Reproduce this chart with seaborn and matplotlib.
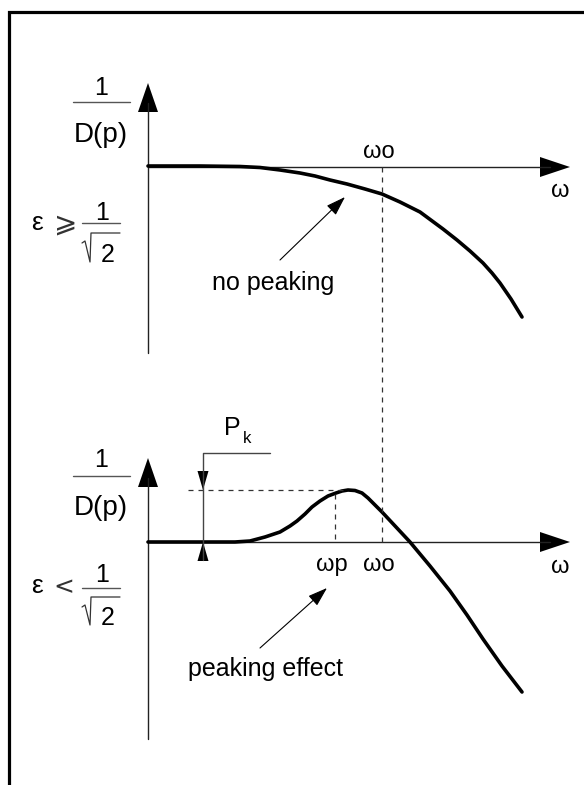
import matplotlib
matplotlib.use("Agg")
import matplotlib.pyplot as plt
from matplotlib.patches import Polygon
import seaborn as sns
import pandas as pd

sns.set_theme(style="white")
plt.rcParams['font.family'] = ['Liberation Sans', 'DejaVu Sans']
plt.rcParams['mathtext.fontset'] = 'dejavusans'
plt.rcParams['text.color'] = 'black'

# ---------------- data (diagram coordinates, pixels, y downwards) -------------
# top panel: epsilon >= 1/sqrt(2), no peaking
top_curve_x = [148, 200, 240, 260, 280, 300, 315, 330, 347, 365, 382, 400, 420,
               443, 457, 470, 483, 492, 500, 511, 522]
top_curve_y = [166, 166, 166.5, 167.5, 170, 173, 176, 180, 184, 189, 194, 202, 212,
               229, 240, 251, 263, 273, 283, 299, 317]
# bottom panel: epsilon < 1/sqrt(2), peaking effect
bot_curve_x = [148, 235, 250, 265, 280, 290, 297, 305, 312, 320, 328, 336, 342, 348,
               355, 362, 368, 375, 382, 396, 410, 430, 450, 467, 483, 502, 522]
bot_curve_y = [542, 542, 541, 537, 532, 526, 521, 514, 507, 501, 496, 493, 491, 490,
               490.5, 493, 498, 505, 512, 527, 542, 566, 591, 615, 639, 666, 692]

panel_names = ["no peaking", "peaking effect"]
origin_x = 148
origin_y = [167, 542]
yaxis_top = [83, 458]
yaxis_bottom = [353, 739]
xaxis_end = 570
omega_o = 382
omega_p = 335
peak_level = 490
ratio_symbols = [r"$\geqslant$", "<"]

df = pd.concat([
    pd.DataFrame({"w": top_curve_x, "mag": top_curve_y, "panel": panel_names[0]}),
    pd.DataFrame({"w": bot_curve_x, "mag": bot_curve_y, "panel": panel_names[1]}),
])

# ---------------- figure ---------------------------------------------------
fig = plt.figure(figsize=(5.84, 7.85), dpi=100)
ax = fig.add_axes([0, 0, 1, 1])

# outer frame (left and top)
ax.plot([9, 9, 590], [800, 12, 12], color="black", lw=2.3, solid_joinstyle="miter")

axis_c = "#222222"
for i in range(2):
    oy = origin_y[i]
    # vertical axis + arrow head
    ax.plot([origin_x, origin_x], [yaxis_bottom[i], yaxis_top[i] + 20], color=axis_c, lw=1.0)
    ax.add_patch(Polygon([[origin_x, yaxis_top[i]], [origin_x - 10, yaxis_top[i] + 29],
                          [origin_x + 10, yaxis_top[i] + 29]], closed=True,
                         color="black", lw=0))
    # horizontal axis + arrow head
    ax.plot([origin_x, xaxis_end - 20], [oy, oy], color=axis_c, lw=1.0)
    ax.add_patch(Polygon([[xaxis_end, oy], [xaxis_end - 30, oy - 10],
                          [xaxis_end - 30, oy + 10]], closed=True, color="black", lw=0))
    # omega label at axis end
    ax.text(560, oy + 30 if i == 0 else oy + 31, "ω", ha="center", va="baseline", fontsize=17)

# curves
sns.lineplot(data=df, x="w", y="mag", units="panel", estimator=None, sort=False,
             color="black", lw=2.6, ax=ax, legend=False)
ax.set_xlim(0, 584)
ax.set_ylim(785, 0)
ax.axis("off")

dash = (0, (4, 4))
# omega_o dashed vertical (spans both panels)
ax.plot([omega_o, omega_o], [origin_y[0], origin_y[1]], color="#333333", lw=0.9, ls=dash)
# omega_p dashed vertical
ax.plot([omega_p, omega_p], [494, origin_y[1]], color="#333333", lw=0.9, ls=dash)
# peak level dashed horizontal
ax.plot([188, 345], [peak_level, peak_level], color="#333333", lw=0.9, ls=dash)

# P_k dimension
ax.plot([270, 203, 203], [453, 453, 560], color="#444444", lw=1.0)
ax.add_patch(Polygon([[203, peak_level], [197.5, peak_level - 19], [208.5, peak_level - 19]],
                     closed=True, color="black", lw=0))
ax.add_patch(Polygon([[203, origin_y[1]], [197.5, origin_y[1] + 19], [208.5, origin_y[1] + 19]],
                     closed=True, color="black", lw=0))
ax.text(232, 435, "P", ha="center", va="baseline", fontsize=18)
ax.text(247, 443, "k", ha="center", va="baseline", fontsize=12)

# tick labels on omega axis
ax.text(379, 158, "ωo", ha="center", va="baseline", fontsize=17)
ax.text(332, 571, "ωp", ha="center", va="baseline", fontsize=17)
ax.text(379, 571, "ωo", ha="center", va="baseline", fontsize=17)

# 1 / D(p) labels
frac_c = "#555555"
for i, (one_b, line_y, d_b) in enumerate([(95, 102, 142), (467, 476, 515)]):
    ax.text(101, one_b, "1", ha="center", va="baseline", fontsize=18)
    ax.plot([73, 130], [line_y, line_y], color=frac_c, lw=1.0)
    ax.text(100.5, d_b, "D(p)", ha="center", va="baseline", fontsize=20)

# epsilon conditions
sym_sizes = [20, 18]
sym_x = [62, 64]
for i, (eps_b, one_b, line_y, bar_y, two_b) in enumerate(
        [(230, 220, 223, 233, 262), (593, 582, 588, 597, 625)]):
    ax.text(37, eps_b, "ε", ha="center", va="baseline", fontsize=19)
    ax.text(sym_x[i], (eps_b - 6), ratio_symbols[i], ha="center", va="center",
            fontsize=sym_sizes[i], family=["DejaVu Sans", "STIXGeneral"], color="#333333")
    ax.text(102, one_b, "1", ha="center", va="baseline", fontsize=18)
    ax.plot([82, 120], [line_y, line_y], color=frac_c, lw=1.0)
    ax.plot([82, 85, 90, 91, 120], [bar_y + 10, bar_y + 8, two_b, bar_y, bar_y],
            color="#333333", lw=0.9)
    ax.text(107.5, two_b, "2", ha="center", va="baseline", fontsize=18)

# annotations
ax.annotate("", xy=(345, 197), xytext=(280, 260),
            arrowprops=dict(arrowstyle="-|>,head_length=1.2,head_width=0.4",
                            mutation_scale=10, lw=0.8, color="black", shrinkA=0, shrinkB=0))
ax.text(273, 290, panel_names[0], ha="center", va="baseline", fontsize=18)
ax.annotate("", xy=(327, 588), xytext=(260, 648),
            arrowprops=dict(arrowstyle="-|>,head_length=1.2,head_width=0.4",
                            mutation_scale=10, lw=0.8, color="black", shrinkA=0, shrinkB=0))
ax.text(265, 676, panel_names[1], ha="center", va="baseline", fontsize=18)

fig.savefig("out.png", dpi=100)
